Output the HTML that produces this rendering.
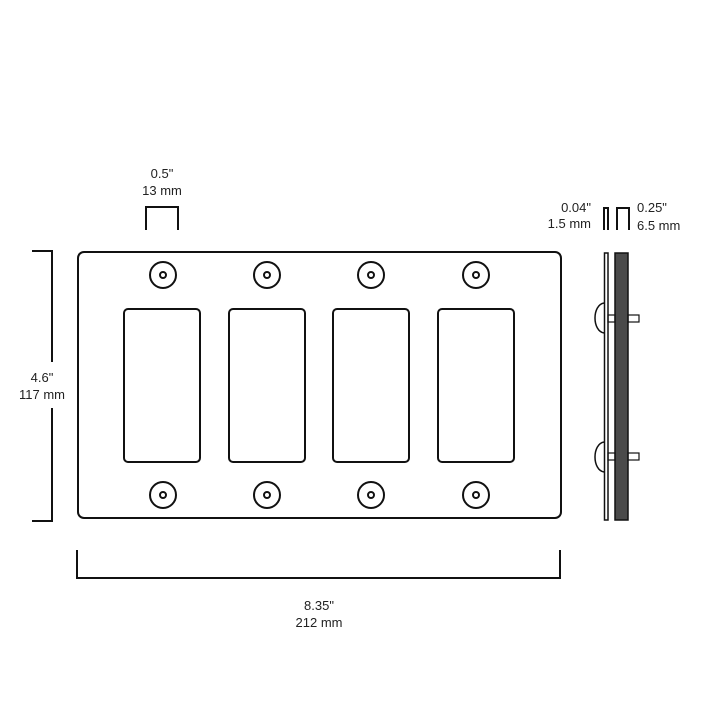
<!DOCTYPE html>
<html><head><style>body{margin:0;background:#fff}svg{display:block}text{font-family:"Liberation Sans",sans-serif;font-size:13px;fill:#222}</style></head><body>
<svg width="709" height="709" viewBox="0 0 709 709" fill="none" stroke="#111" stroke-width="2">
<rect x="78" y="252" width="483" height="266" rx="6"/>
<g>
<rect x="124" y="309" width="76" height="153" rx="4"/>
<rect x="229" y="309" width="76" height="153" rx="4"/>
<rect x="333" y="309" width="76" height="153" rx="4"/>
<rect x="438" y="309" width="76" height="153" rx="4"/>
</g>
<g>
<circle cx="163" cy="275" r="13"/><circle cx="163" cy="275" r="3"/>
<circle cx="267" cy="275" r="13"/><circle cx="267" cy="275" r="3"/>
<circle cx="371" cy="275" r="13"/><circle cx="371" cy="275" r="3"/>
<circle cx="476" cy="275" r="13"/><circle cx="476" cy="275" r="3"/>
<circle cx="163" cy="495" r="13"/><circle cx="163" cy="495" r="3"/>
<circle cx="267" cy="495" r="13"/><circle cx="267" cy="495" r="3"/>
<circle cx="371" cy="495" r="13"/><circle cx="371" cy="495" r="3"/>
<circle cx="476" cy="495" r="13"/><circle cx="476" cy="495" r="3"/>
</g>
<path d="M146 230V207H178V230"/>
<path d="M32 251H52V365M52 408V521H32" />
<path d="M77 550V578H560V550"/>
<path d="M604 230V208H608V230"/>
<path d="M617 230V208H629V230"/>
<rect x="604.5" y="253" width="3.5" height="267" stroke-width="1.5"/>
<rect x="615" y="253" width="13" height="267" fill="#4a4a4a" stroke-width="1.5"/>
<path d="M604 303C592 305 592 331 604 333" stroke-width="1.5"/>
<path d="M604 442C592 444 592 470 604 472" stroke-width="1.5"/>
<rect x="608" y="315" width="7" height="7" stroke-width="1.2"/>
<rect x="628" y="315" width="11" height="7" stroke-width="1.2"/>
<rect x="608" y="453" width="7" height="7" stroke-width="1.2"/>
<rect x="628" y="453" width="11" height="7" stroke-width="1.2"/>
</svg>
<svg width="709" height="709" style="position:absolute;left:0;top:0">
<rect x="20" y="362" width="54" height="44" fill="#fff"/>
<text x="42" y="382" text-anchor="middle">4.6"</text>
<text x="42" y="399" text-anchor="middle">117 mm</text>
<text x="162" y="178" text-anchor="middle">0.5"</text>
<text x="162" y="195" text-anchor="middle">13 mm</text>
<text x="319" y="610" text-anchor="middle">8.35"</text>
<text x="319" y="627" text-anchor="middle">212 mm</text>
<text x="591" y="212" text-anchor="end">0.04"</text>
<text x="591" y="228" text-anchor="end">1.5 mm</text>
<text x="637" y="212">0.25"</text>
<text x="637" y="230">6.5 mm</text>
</svg>
</body></html>
